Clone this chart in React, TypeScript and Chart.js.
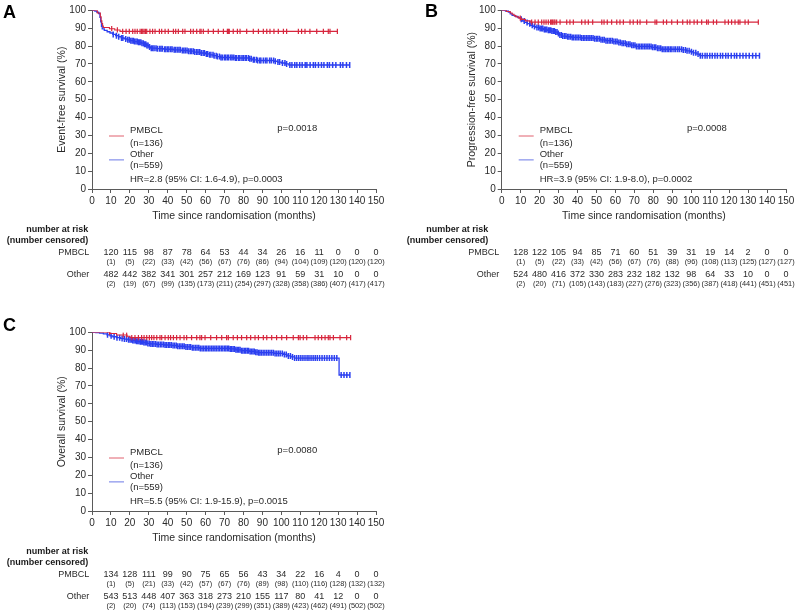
import React, { useEffect, useRef } from "react";
import { Chart, registerables } from "chart.js";

Chart.register(...registerables);

const FONT = "'Liberation Sans', Arial, Helvetica, sans-serif";
const TEXT = "#2a2a2a";
const AXIS = "#5a5a5a";
const RED = "#d7263d";
const BLUE = "#2b3ff0";
const RED_LEG = "#e0606e";
const BLUE_LEG = "#6b78e6";

const X_MAX = 150;
const X_STEP = 10;
const Y_MAX = 100;
const Y_STEP = 10;
const riskTimes = [10, 20, 30, 40, 50, 60, 70, 80, 90, 100, 110, 120, 130, 140, 150];
const xTitle = "Time since randomisation (months)";
const groupNames = ["PMBCL", "Other"];
const groupNs = ["(n=136)", "(n=559)"];

// ---------- Panel A : event-free survival ----------
const aPmbclTimes = [0, 2.8, 4.4, 4.8, 5.2, 5.6, 6, 9.2, 12, 14.8, 129.6];
const aPmbclSurv = [100, 98.5, 96.3, 94.1, 92.6, 91.2, 90.4, 89.7, 89.0, 88.2, 88.2];
const aPmbclCens = [10.4, 13.4, 16.2, 18.0, 19.7, 21.5, 22.7, 23.9, 25.4, 26.2, 26.8, 27.5, 28.2, 28.9, 30.6, 32.0, 33.3, 35.6, 36.8, 38.6, 40.3, 43.0, 44.2, 45.6, 47.9, 49.1, 52.1, 53.5, 55.3, 57.0, 57.6, 58.8, 61.4, 64.1, 66.7, 69.4, 71.5, 72.0, 72.5, 74.6, 76.8, 78.2, 81.7, 85.2, 87.9, 90.5, 92.3, 94.0, 96.1, 98.4, 101.1, 102.8, 109.0, 110.7, 112.5, 115.1, 118.7, 122.2, 124.8, 125.7, 129.6];
const aOtherTimes = [0, 1.5, 2.5, 3.5, 4.2, 4.6, 5.0, 5.4, 6.5, 8, 9.5, 11, 12.5, 14, 15.5, 17, 18.5, 20, 22, 24, 26, 27.5, 29, 30, 31, 34, 38, 43, 47, 51, 54, 57, 60, 62, 64, 66, 68, 75, 83, 84.5, 87, 96, 98, 100, 102, 104, 136.1];
const aOtherSurv = [100, 99.5, 99.0, 98.2, 96, 93.5, 91.0, 89.6, 88.8, 88.0, 87.3, 86.5, 85.8, 85.2, 84.5, 84.0, 83.5, 83.0, 82.5, 82.1, 81.6, 81.0, 80.3, 79.5, 78.8, 78.5, 78.2, 77.9, 77.5, 77.1, 76.6, 76.1, 75.6, 75.1, 74.6, 74.1, 73.6, 73.3, 72.9, 72.3, 71.9, 71.5, 71.0, 70.5, 70.0, 69.4, 69.4];
const aOtherCens = [11.2, 12.9, 14.1, 15.6, 16.3, 17.8, 18.9, 19.7, 20.5, 21.2, 21.9, 22.4, 23.2, 23.9, 24.5, 25.1, 25.8, 26.4, 27.1, 27.7, 28.4, 29.0, 29.6, 30.4, 31.3, 32.1, 32.8, 33.8, 34.5, 35.6, 36.4, 37.1, 38.3, 39.0, 39.9, 40.6, 41.6, 42.3, 43.4, 44.1, 45.0, 45.9, 46.6, 47.7, 48.5, 49.3, 50.2, 51.0, 51.9, 52.7, 53.6, 54.3, 55.3, 56.0, 56.9, 57.7, 58.7, 59.4, 60.4, 61.1, 62.1, 62.8, 63.9, 64.5, 65.6, 66.2, 67.3, 68.1, 68.8, 69.9, 70.6, 71.5, 72.2, 73.3, 74.0, 74.9, 75.8, 76.4, 77.5, 78.1, 79.2, 79.9, 80.9, 81.5, 82.6, 83.3, 84.1, 85.2, 85.8, 86.9, 87.5, 88.6, 89.2, 90.5, 91.6, 92.4, 93.8, 94.7, 95.9, 96.8, 98.2, 99.1, 100.6, 101.9, 102.8, 104.5, 105.6, 107.1, 108.2, 109.7, 111.0, 112.6, 113.5, 115.2, 116.9, 118.0, 119.6, 121.2, 122.5, 124.3, 125.4, 127.1, 128.8, 131.2, 132.5, 134.4, 136.1];
const aRiskPmbcl = [120, 115, 98, 87, 78, 64, 53, 44, 34, 26, 16, 11, 0, 0, 0];
const aCensPmbcl = [1, 5, 22, 33, 42, 56, 67, 76, 86, 94, 104, 109, 120, 120, 120];
const aRiskOther = [482, 442, 382, 341, 301, 257, 212, 169, 123, 91, 59, 31, 10, 0, 0];
const aCensOther = [2, 19, 67, 99, 135, 173, 211, 254, 297, 328, 358, 386, 407, 417, 417];

// ---------- Panel B : progression-free survival ----------
const bPmbclTimes = [0, 2.5, 4.5, 5.5, 6.5, 7.5, 9, 10.5, 12.5, 15, 135.4];
const bPmbclSurv = [100, 99.3, 98.5, 97.8, 97.0, 96.3, 95.6, 94.9, 94.1, 93.4, 93.4];
const bPmbclCens = [9.8, 15.8, 17.6, 19.3, 21.1, 22.3, 23.4, 24.6, 25.8, 26.4, 26.9, 27.6, 28.1, 29.0, 30.8, 34.3, 36.0, 37.8, 42.2, 44.0, 45.7, 48.0, 52.8, 54.0, 55.7, 58.0, 60.7, 62.4, 64.2, 67.7, 69.4, 71.6, 73.0, 76.5, 80.9, 81.8, 85.3, 87.0, 89.7, 92.7, 95.5, 97.9, 99.3, 101.5, 103.2, 105.5, 108.1, 109.0, 111.7, 113.4, 117.8, 119.6, 121.3, 123.1, 124.8, 125.7, 128.4, 130.1, 135.4];
const bOtherTimes = [0, 2, 3.5, 4.5, 5.5, 7, 8.5, 10, 11, 12, 13.5, 15, 16.5, 18, 20, 22, 24, 26, 28, 29.5, 30.5, 32, 34, 37, 42, 49, 52, 55, 58.5, 61, 63, 65.5, 68, 70.5, 79, 82, 84, 95, 97.5, 99.5, 101, 103, 104.5, 136];
const bOtherSurv = [100, 99.6, 99.0, 98.0, 97.2, 96.6, 95.9, 95.0, 94.0, 93.2, 92.5, 91.6, 91.0, 90.4, 89.8, 89.3, 88.8, 88.4, 87.8, 87.0, 86.2, 85.6, 85.2, 84.8, 84.5, 84.1, 83.5, 83.0, 82.5, 82.0, 81.5, 81.0, 80.5, 79.8, 79.3, 78.8, 78.2, 77.8, 77.3, 76.8, 76.2, 75.5, 74.6, 74.6];
const bOtherCens = [10.3, 11.9, 13.4, 14.8, 16.1, 17.3, 18.6, 19.5, 20.3, 21.1, 21.7, 22.5, 23.1, 23.8, 24.6, 25.2, 25.9, 26.5, 27.2, 27.8, 28.5, 29.2, 29.9, 30.7, 31.5, 32.2, 33.1, 33.9, 34.8, 35.5, 36.4, 37.2, 38.0, 38.9, 39.7, 40.5, 41.4, 42.2, 43.1, 43.9, 44.8, 45.6, 46.5, 47.3, 48.2, 49.0, 49.9, 50.7, 51.6, 52.4, 53.3, 54.1, 55.0, 55.8, 56.7, 57.5, 58.4, 59.2, 60.1, 60.9, 61.8, 62.6, 63.5, 64.3, 65.2, 66.0, 66.9, 67.7, 68.6, 69.4, 70.3, 71.1, 72.0, 72.8, 73.7, 74.5, 75.4, 76.2, 77.1, 77.9, 78.8, 79.6, 80.5, 81.3, 82.2, 83.0, 83.9, 84.7, 85.6, 86.4, 87.3, 88.1, 89.0, 89.8, 90.9, 91.8, 92.9, 93.8, 94.9, 95.8, 96.9, 97.8, 98.9, 100.1, 101.2, 102.4, 103.6, 104.8, 105.9, 107.3, 108.4, 109.8, 111.1, 112.5, 113.8, 115.4, 116.6, 118.2, 119.5, 121.1, 122.8, 124.0, 125.7, 127.3, 128.9, 130.6, 132.4, 134.1, 136.0];
const bRiskPmbcl = [128, 122, 105, 94, 85, 71, 60, 51, 39, 31, 19, 14, 2, 0, 0];
const bCensPmbcl = [1, 5, 22, 33, 42, 56, 67, 76, 88, 96, 108, 113, 125, 127, 127];
const bRiskOther = [524, 480, 416, 372, 330, 283, 232, 182, 132, 98, 64, 33, 10, 0, 0];
const bCensOther = [2, 20, 71, 105, 143, 183, 227, 276, 323, 356, 387, 418, 441, 451, 451];

// ---------- Panel C : overall survival ----------
const cPmbclTimes = [0, 9.5, 13, 18.5, 20, 136.6];
const cPmbclSurv = [100, 99.3, 98.5, 97.8, 97.0, 97.0];
const cPmbclCens = [9.3, 16.5, 18.3, 21.0, 22.7, 24.5, 26.2, 27.5, 28.9, 30.3, 31.5, 32.7, 34.2, 35.9, 36.8, 38.6, 40.3, 41.5, 43.0, 44.7, 46.5, 48.6, 50.0, 52.6, 55.3, 57.0, 57.9, 59.7, 62.7, 65.8, 68.5, 71.1, 72.0, 74.6, 76.8, 79.0, 81.7, 83.8, 86.1, 87.9, 90.5, 92.3, 94.9, 97.5, 100.2, 102.8, 106.3, 109.0, 109.9, 111.6, 113.4, 117.8, 119.5, 121.3, 123.1, 124.8, 125.7, 127.5, 131.0, 134.5, 136.6];
const cOtherTimes = [0, 2, 4, 6, 8, 9.5, 11, 13, 15, 17, 19, 21, 23, 25, 27, 29, 31, 34, 38, 42, 45, 49, 53, 57, 73, 76, 79, 83, 86, 88, 96, 101, 103, 105, 107, 130.5, 136.2];
const cOtherSurv = [100, 99.8, 99.5, 99.1, 98.6, 98.0, 97.5, 97.0, 96.6, 96.2, 95.8, 95.4, 95.0, 94.7, 94.3, 93.8, 93.5, 93.2, 92.9, 92.6, 92.2, 91.8, 91.4, 91.0, 90.7, 90.2, 89.7, 89.3, 88.9, 88.6, 88.2, 87.6, 86.8, 86.2, 85.6, 76.1, 76.1];
const cOtherCens = [8.2, 10.1, 11.7, 13.2, 14.6, 15.9, 17.1, 18.2, 19.3, 20.1, 20.8, 21.5, 22.2, 22.9, 23.5, 24.2, 24.8, 25.5, 26.1, 26.8, 27.4, 28.1, 28.8, 29.5, 30.3, 31.1, 31.9, 32.7, 33.6, 34.4, 35.2, 36.1, 36.9, 37.8, 38.6, 39.4, 40.3, 41.1, 41.9, 42.8, 43.6, 44.5, 45.3, 46.2, 47.0, 47.9, 48.7, 49.6, 50.4, 51.3, 52.1, 53.0, 53.8, 54.7, 55.5, 56.4, 57.2, 58.1, 58.9, 59.8, 60.6, 61.5, 62.3, 63.2, 64.0, 64.9, 65.7, 66.6, 67.4, 68.3, 69.1, 70.0, 70.7, 71.5, 72.2, 73.0, 73.7, 74.5, 75.2, 76.0, 76.7, 77.5, 78.2, 79.0, 79.7, 80.5, 81.2, 82.0, 82.7, 83.5, 84.2, 85.0, 85.7, 86.5, 87.2, 88.0, 88.7, 89.5, 90.4, 91.3, 92.2, 93.1, 94.0, 94.9, 95.8, 96.7, 97.6, 98.5, 99.4, 100.5, 101.6, 102.6, 103.7, 104.8, 105.9, 107.0, 108.1, 109.2, 110.3, 111.4, 112.5, 113.6, 114.6, 115.7, 116.8, 117.9, 119.0, 120.2, 121.5, 122.8, 124.1, 125.4, 126.7, 128.0, 129.3, 131.6, 133.1, 134.6, 136.2];
const cRiskPmbcl = [134, 128, 111, 99, 90, 75, 65, 56, 43, 34, 22, 16, 4, 0, 0];
const cCensPmbcl = [1, 5, 21, 33, 42, 57, 67, 76, 89, 98, 110, 116, 128, 132, 132];
const cRiskOther = [543, 513, 448, 407, 363, 318, 273, 210, 155, 117, 80, 41, 12, 0, 0];
const cCensOther = [2, 20, 74, 113, 153, 194, 239, 299, 351, 389, 423, 462, 491, 502, 502];

type Curve = { times: number[]; surv: number[]; cens: number[] };
type PanelProps = {
  left: number; top: number; width: number; height: number;
  area: { left: number; top: number; right: number; bottom: number };
  letter: string; letterX: number; letterY: number;
  yTitle: string; pText: string; hrText: string;
  narRight: number; rowLabelRight: number;
  pmbcl: Curve; other: Curve;
  riskPmbcl: number[]; censPmbcl: number[]; riskOther: number[]; censOther: number[];
};

function stepAt(times: number[], surv: number[], t: number) {
  let v = surv[0];
  for (let i = 0; i < times.length; i++) {
    if (times[i] <= t) v = surv[i];
    else break;
  }
  return v;
}

function KMPanel(p: PanelProps) {
  const ref = useRef<HTMLCanvasElement | null>(null);
  useEffect(() => {
    if (!ref.current) return;
    const lineData = (c: Curve) => c.times.map((t, i) => ({ x: t, y: c.surv[i] }));
    const censData = (c: Curve) => c.cens.map((t) => ({ x: t, y: stepAt(c.times, c.surv, t) }));

    const overlay = {
      id: "overlay",
      afterDraw(chart: any) {
        const { ctx, chartArea: ca, scales } = chart;
        const xs = scales.x;
        ctx.save();
        ctx.fillStyle = "#000";
        ctx.font = `bold 18px ${FONT}`;
        ctx.textAlign = "left";
        ctx.textBaseline = "middle";
        ctx.fillText(p.letter, p.letterX, p.letterY);

        ctx.fillStyle = TEXT;
        ctx.save();
        ctx.translate(ca.left - 30, (ca.top + ca.bottom) / 2);
        ctx.rotate(-Math.PI / 2);
        ctx.textAlign = "center";
        ctx.font = `10.5px ${FONT}`;
        ctx.fillText(p.yTitle, 0, 0);
        ctx.restore();

        ctx.textAlign = "center";
        ctx.font = `10.5px ${FONT}`;
        ctx.fillText(xTitle, (ca.left + ca.right) / 2, ca.bottom + 27.5);

        const lx = ca.left;
        const ly = ca.top;
        ctx.lineWidth = 1;
        ctx.strokeStyle = RED_LEG;
        ctx.beginPath();
        ctx.moveTo(lx + 17, ly + 125.7);
        ctx.lineTo(lx + 32, ly + 125.7);
        ctx.stroke();
        ctx.strokeStyle = BLUE_LEG;
        ctx.beginPath();
        ctx.moveTo(lx + 17, ly + 149.6);
        ctx.lineTo(lx + 32, ly + 149.6);
        ctx.stroke();
        ctx.textAlign = "left";
        ctx.font = `9.5px ${FONT}`;
        ctx.fillText(groupNames[0], lx + 38, ly + 120.4);
        ctx.fillText(groupNs[0], lx + 38, ly + 133);
        ctx.fillText(groupNames[1], lx + 38, ly + 144.2);
        ctx.fillText(groupNs[1], lx + 38, ly + 155.4);
        ctx.fillText(p.hrText, lx + 38, ly + 169);
        ctx.fillText(p.pText, lx + 185.3, ly + 118);

        const b = ca.bottom;
        ctx.textAlign = "right";
        ctx.font = `bold 9px ${FONT}`;
        ctx.fillStyle = "#1a1a1a";
        ctx.fillText("number at risk", p.narRight, b + 41);
        ctx.fillText("(number censored)", p.narRight, b + 51.3);
        ctx.fillStyle = TEXT;
        ctx.font = `9px ${FONT}`;
        ctx.fillText(groupNames[0], p.rowLabelRight, b + 63.5);
        ctx.fillText(groupNames[1], p.rowLabelRight, b + 85.5);
        ctx.textAlign = "center";
        riskTimes.forEach((t, i) => {
          const px = xs.getPixelForValue(t);
          ctx.font = `9px ${FONT}`;
          ctx.fillText(String(p.riskPmbcl[i]), px, b + 63.5);
          ctx.fillText(String(p.riskOther[i]), px, b + 85.5);
          ctx.font = `7.4px ${FONT}`;
          ctx.fillText(`(${p.censPmbcl[i]})`, px, b + 73.3);
          ctx.fillText(`(${p.censOther[i]})`, px, b + 95.4);
        });
        ctx.restore();
      },
    };

    const chart = new Chart(ref.current, {
      type: "line",
      data: {
        datasets: [
          {
            data: censData(p.pmbcl), showLine: false, pointStyle: "line", rotation: 90,
            pointRadius: 2.6, pointBorderWidth: 1.2, pointBorderColor: RED, borderColor: RED,
          },
          {
            data: lineData(p.pmbcl), stepped: true, borderColor: RED, borderWidth: 1.1,
            pointRadius: 0, fill: false,
          },
          {
            data: censData(p.other), showLine: false, pointStyle: "line", rotation: 90,
            pointRadius: 3, pointBorderWidth: 1.5, pointBorderColor: BLUE, borderColor: BLUE,
          },
          {
            data: lineData(p.other), stepped: true, borderColor: BLUE, borderWidth: 1.3,
            pointRadius: 0, fill: false,
          },
        ] as any,
      },
      options: {
        responsive: false,
        animation: false,
        events: [],
        layout: {
          padding: { left: 0, top: p.area.top, right: p.width - p.area.right, bottom: 0 },
        },
        plugins: { legend: { display: false }, tooltip: { enabled: false }, title: { display: false } },
        scales: {
          x: {
            type: "linear", min: 0, max: X_MAX,
            ticks: { stepSize: X_STEP, color: TEXT, font: { family: FONT, size: 10 }, padding: 2, maxRotation: 0, autoSkip: false },
            grid: { drawOnChartArea: false, drawTicks: true, tickLength: 4, color: AXIS },
            border: { display: true, color: AXIS, width: 1 },
            afterFit: (s: any) => { s.height = p.height - p.area.bottom; },
          },
          y: {
            type: "linear", min: 0, max: Y_MAX,
            ticks: { stepSize: Y_STEP, color: TEXT, font: { family: FONT, size: 10 }, padding: 2 },
            grid: { drawOnChartArea: false, drawTicks: true, tickLength: 4, color: AXIS },
            border: { display: true, color: AXIS, width: 1 },
            afterFit: (s: any) => { s.width = p.area.left; },
          },
        },
      } as any,
      plugins: [overlay],
    });
    return () => chart.destroy();
  }, []);
  return (
    <canvas
      ref={ref}
      width={p.width}
      height={p.height}
      style={{ position: "absolute", left: p.left, top: p.top, width: p.width, height: p.height }}
    />
  );
}

export default function App() {
  return (
    <div style={{ position: "absolute", left: 0, top: 0, width: 800, height: 616, background: "#fff", overflow: "hidden" }}>
      <KMPanel
        left={0} top={0} width={400} height={300}
        area={{ left: 92, top: 10.3, right: 376, bottom: 189 }}
        letter="A" letterX={3} letterY={12.7}
        yTitle="Event-free survival (%)" pText="p=0.0018" hrText="HR=2.8 (95% CI: 1.6-4.9), p=0.0003"
        narRight={88.3} rowLabelRight={89.3}
        pmbcl={{ times: aPmbclTimes, surv: aPmbclSurv, cens: aPmbclCens }}
        other={{ times: aOtherTimes, surv: aOtherSurv, cens: aOtherCens }}
        riskPmbcl={aRiskPmbcl} censPmbcl={aCensPmbcl} riskOther={aRiskOther} censOther={aCensOther}
      />
      <KMPanel
        left={400} top={0} width={400} height={300}
        area={{ left: 101.7, top: 10.3, right: 386, bottom: 189 }}
        letter="B" letterX={25} letterY={12}
        yTitle="Progression-free survival (%)" pText="p=0.0008" hrText="HR=3.9 (95% CI: 1.9-8.0), p=0.0002"
        narRight={88.3} rowLabelRight={99.3}
        pmbcl={{ times: bPmbclTimes, surv: bPmbclSurv, cens: bPmbclCens }}
        other={{ times: bOtherTimes, surv: bOtherSurv, cens: bOtherCens }}
        riskPmbcl={bRiskPmbcl} censPmbcl={bCensPmbcl} riskOther={bRiskOther} censOther={bCensOther}
      />
      <KMPanel
        left={0} top={300} width={400} height={316}
        area={{ left: 92, top: 32.3, right: 376, bottom: 211 }}
        letter="C" letterX={3} letterY={26}
        yTitle="Overall survival (%)" pText="p=0.0080" hrText="HR=5.5 (95% CI: 1.9-15.9), p=0.0015"
        narRight={88.3} rowLabelRight={89.3}
        pmbcl={{ times: cPmbclTimes, surv: cPmbclSurv, cens: cPmbclCens }}
        other={{ times: cOtherTimes, surv: cOtherSurv, cens: cOtherCens }}
        riskPmbcl={cRiskPmbcl} censPmbcl={cCensPmbcl} riskOther={cRiskOther} censOther={cCensOther}
      />
    </div>
  );
}
